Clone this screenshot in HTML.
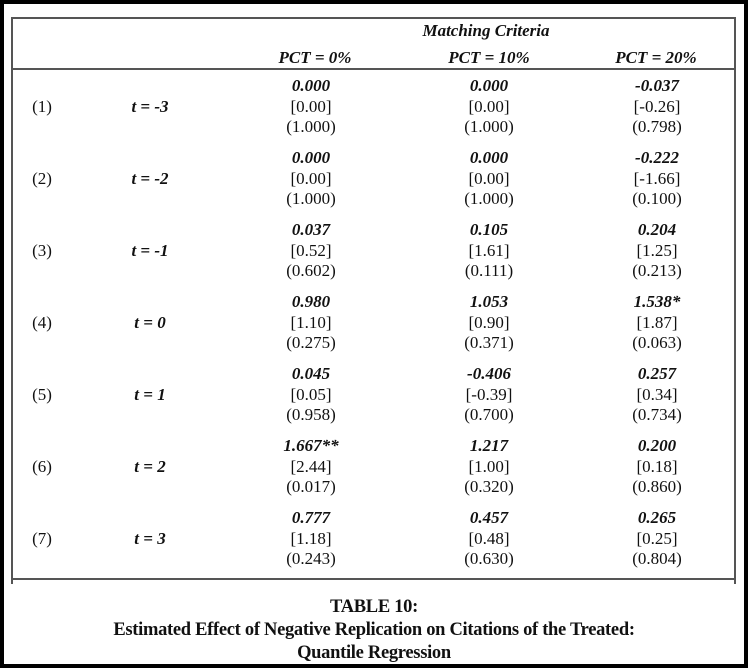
<!DOCTYPE html>
<html><head><style>
html,body{margin:0;padding:0;background:#fff;}
#f{position:relative;width:748px;height:668px;overflow:hidden;background:#fff;font-family:"Liberation Serif",serif;color:#111;}
.b{position:absolute;background:#000;}
.g{position:absolute;background:#555;}
.t{position:absolute;width:200px;margin-left:-100px;text-align:center;font-size:17px;line-height:20px;white-space:nowrap;}
.bi{font-weight:bold;font-style:italic;}
.cap{position:absolute;left:0;width:748px;text-align:center;font-weight:bold;font-size:18.5px;line-height:22px;letter-spacing:-0.3px;}
</style></head><body><div id="f">
<div class="b" style="left:0;top:0;width:748px;height:4px"></div>
<div class="b" style="left:0;bottom:0;width:748px;height:4px"></div>
<div class="b" style="left:0;top:0;width:4px;height:668px"></div>
<div class="b" style="right:0;top:0;width:4px;height:668px"></div>
<div class="g" style="left:11px;top:17px;width:725px;height:1.5px"></div>
<div class="g" style="left:11px;top:68px;width:725px;height:1.5px"></div>
<div class="g" style="left:11px;top:578px;width:725px;height:1.5px"></div>
<div class="g" style="left:11px;top:17px;width:1.5px;height:567px"></div>
<div class="g" style="left:734px;top:17px;width:1.5px;height:567px"></div>
<div class="t bi" style="left:486px;top:21px">Matching Criteria</div>
<div class="t bi" style="left:315px;top:48px">PCT = 0%</div>
<div class="t bi" style="left:489px;top:48px">PCT = 10%</div>
<div class="t bi" style="left:656px;top:48px">PCT = 20%</div>
<div id="rows"></div>
<div class="cap" style="top:596px">TABLE 10:</div>
<div class="cap" style="top:619px">Estimated Effect of Negative Replication on Citations of the Treated:</div>
<div class="cap" style="top:642px">Quantile Regression</div>
</div>
<script>
var d=[
["(1)","t = -3",["0.000","[0.00]","(1.000)"],["0.000","[0.00]","(1.000)"],["-0.037","[-0.26]","(0.798)"]],
["(2)","t = -2",["0.000","[0.00]","(1.000)"],["0.000","[0.00]","(1.000)"],["-0.222","[-1.66]","(0.100)"]],
["(3)","t = -1",["0.037","[0.52]","(0.602)"],["0.105","[1.61]","(0.111)"],["0.204","[1.25]","(0.213)"]],
["(4)","t = 0",["0.980","[1.10]","(0.275)"],["1.053","[0.90]","(0.371)"],["1.538*","[1.87]","(0.063)"]],
["(5)","t = 1",["0.045","[0.05]","(0.958)"],["-0.406","[-0.39]","(0.700)"],["0.257","[0.34]","(0.734)"]],
["(6)","t = 2",["1.667**","[2.44]","(0.017)"],["1.217","[1.00]","(0.320)"],["0.200","[0.18]","(0.860)"]],
["(7)","t = 3",["0.777","[1.18]","(0.243)"],["0.457","[0.48]","(0.630)"],["0.265","[0.25]","(0.804)"]]];
var xs=[311,489,657],h="";
d.forEach(function(r,i){var y=86+72*i;
h+='<div class="t" style="left:42px;top:'+(y+11)+'px">'+r[0]+'</div>';
h+='<div class="t bi" style="left:150px;top:'+(y+11)+'px">'+r[1]+'</div>';
for(var c=0;c<3;c++){var v=r[2+c];
h+='<div class="t bi" style="left:'+xs[c]+'px;top:'+(y-10)+'px">'+v[0]+'</div>';
h+='<div class="t" style="left:'+xs[c]+'px;top:'+(y+11)+'px">'+v[1]+'</div>';
h+='<div class="t" style="left:'+xs[c]+'px;top:'+(y+31)+'px">'+v[2]+'</div>';}});
document.getElementById("rows").innerHTML=h;
</script>
</body></html>
